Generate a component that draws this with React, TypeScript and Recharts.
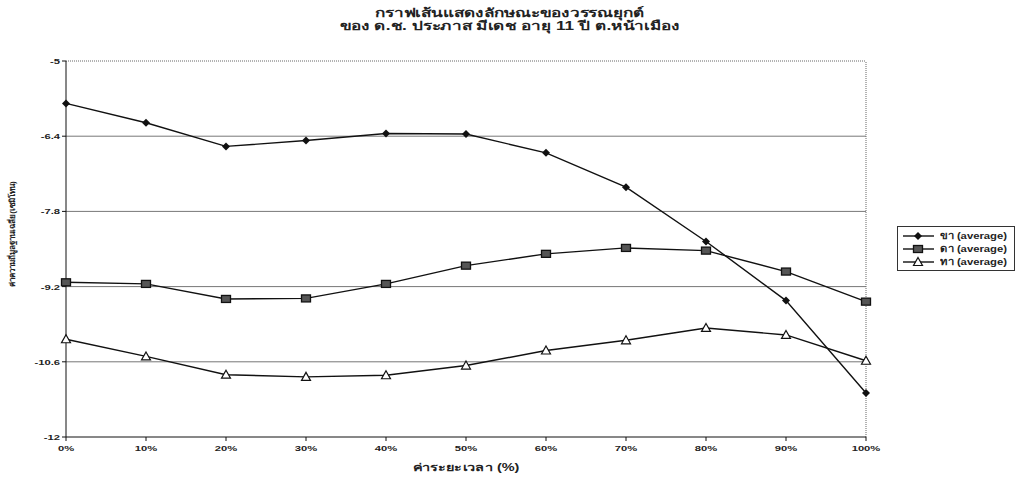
import { Label, Legend, Line, LineChart, ReferenceLine, XAxis, YAxis } from 'recharts'

const TIME_PCT = [0, 10, 20, 30, 40, 50, 60, 70, 80, 90, 100]
const KHA = [-5.79, -6.15, -6.59, -6.48, -6.35, -6.36, -6.71, -7.35, -8.36, -9.46, -11.18]
const DA = [-9.12, -9.15, -9.43, -9.42, -9.15, -8.81, -8.59, -8.48, -8.53, -8.92, -9.48]
const THA = [-10.18, -10.5, -10.84, -10.88, -10.85, -10.67, -10.39, -10.2, -9.97, -10.1, -10.58]
const Y_TICKS = [-5, -6.4, -7.8, -9.2, -10.6, -12]
const GRID_VALUES = [-6.4, -7.8, -9.2, -10.6]
const SERIES_NAMES = ['ขา (average)', 'ดา (average)', 'ทา (average)']

const data = TIME_PCT.map((t, i) => ({ t, kha: KHA[i], da: DA[i], tha: THA[i] }))

const FONT = '"Liberation Sans", Arial, sans-serif'
// the scanned figure is stretched sideways, so text gets widened a bit
const STRETCH = 1.4

function Diamond({ cx, cy }: any) {
  if (cx == null || cy == null) return null
  return <path d={`M${cx},${cy - 4}L${cx + 4},${cy}L${cx},${cy + 4}L${cx - 4},${cy}Z`} fill="#111" />
}

function Square({ cx, cy }: any) {
  if (cx == null || cy == null) return null
  return <rect x={cx - 4.5} y={cy - 3.5} width={9} height={7} fill="#555" stroke="#111" strokeWidth={1.3} />
}

function Triangle({ cx, cy }: any) {
  if (cx == null || cy == null) return null
  return <path d={`M${cx},${cy - 4.5}L${cx + 4.5},${cy + 3.5}L${cx - 4.5},${cy + 3.5}Z`} fill="#fff" stroke="#111" strokeWidth={1.2} />
}

const MARKERS = [Diamond, Square, Triangle]

function XTick({ x, y, payload }: any) {
  return (
    <text
      x={x}
      y={y + 8}
      textAnchor="middle"
      transform={`translate(${x},0) scale(${STRETCH},1) translate(${-x},0)`}
      fontFamily={FONT}
      fontWeight="bold"
      fontSize={8}
      fill="#222"
    >
      {`${payload.value}%`}
    </text>
  )
}

function YTick({ x, y, payload }: any) {
  return (
    <text
      x={x}
      y={y + 3}
      textAnchor="end"
      transform={`translate(${x},0) scale(${STRETCH},1) translate(${-x},0)`}
      fontFamily={FONT}
      fontWeight="bold"
      fontSize={8}
      fill="#222"
    >
      {payload.value}
    </text>
  )
}

function XTitle() {
  const cx = 466
  return (
    <text
      x={cx}
      y={471}
      textAnchor="middle"
      transform={`translate(${cx},0) scale(1.45,1) translate(${-cx},0)`}
      fontFamily={FONT}
      fontWeight="bold"
      fontSize={10}
      fill="#222"
    >
      ค่าระยะเวลา (%)
    </text>
  )
}

function YTitle() {
  const cx = 12
  const cy = 234
  return (
    <text
      x={cx}
      y={cy}
      transform={`rotate(-90, ${cx}, ${cy})`}
      textAnchor="middle"
      dominantBaseline="central"
      fontFamily={FONT}
      fontWeight="bold"
      fontSize={8}
      fill="#222"
    >
      ค่าความถี่มูลฐานเฉลี่ย(เซมิโทน)
    </text>
  )
}

function LegendBox() {
  return (
    <div
      style={{
        marginLeft: 31,
        width: 118,
        border: '1px solid #333',
        padding: '2px 0 2px 4px',
        fontFamily: FONT,
        fontWeight: 'bold',
        fontSize: 9,
        color: '#222',
        boxSizing: 'border-box',
      }}
    >
      {SERIES_NAMES.map((name, i) => {
        const M = MARKERS[i]
        return (
          <div key={name} style={{ display: 'flex', alignItems: 'center', height: 13 }}>
            <svg width={33} height={12} style={{ marginRight: 5 }}>
              <line x1={1} y1={6} x2={32} y2={6} stroke="#111" strokeWidth={1.4} />
              <M cx={16} cy={6} />
            </svg>
            <span style={{ display: 'inline-block', transform: 'scaleX(1.25)', transformOrigin: '0 50%' }}>{name}</span>
          </div>
        )
      })}
    </div>
  )
}

export default function App() {
  return (
    <div style={{ position: 'relative', width: 1019, height: 478, background: '#fff' }}>
      <style>{'body{margin:0;background:#fff}'}</style>
      <div
        style={{
          position: 'absolute',
          top: 7,
          left: 0,
          width: 1019,
          textAlign: 'center',
          fontFamily: FONT,
          fontWeight: 'bold',
          fontSize: 12,
          lineHeight: '13px',
          color: '#222',
          transform: 'scaleX(1.43)',
          transformOrigin: '509px 0',
        }}
      >
        <div>กราฟเส้นแสดงลักษณะของวรรณยุกต์</div>
        <div>ของ ด.ช. ประภาส มีเดช อายุ 11 ปี ต.หน้าเมือง</div>
      </div>
      <div style={{ position: 'absolute', left: 0, top: 0 }}>
        <LineChart width={1019} height={478} data={data} margin={{ top: 61, right: 2, bottom: 0, left: 10 }}>
          {GRID_VALUES.map((v) => (
            <ReferenceLine key={v} y={v} stroke="#777" strokeWidth={1} />
          ))}
          <ReferenceLine y={-5} stroke="#666" strokeDasharray="1 1" />
          <ReferenceLine x={100} stroke="#666" strokeDasharray="1 1" />
          <XAxis
            dataKey="t"
            type="number"
            domain={[0, 100]}
            ticks={TIME_PCT}
            height={41}
            stroke="#111"
            tickSize={4}
            tick={<XTick />}
            interval={0}
          >
            <Label content={<XTitle />} />
          </XAxis>
          <YAxis
            type="number"
            domain={[-12, -5]}
            ticks={Y_TICKS}
            width={56}
            stroke="#111"
            tickSize={4}
            interval={0}
            tick={<YTick />}
          >
            <Label content={<YTitle />} />
          </YAxis>
          <Legend
            layout="vertical"
            align="right"
            verticalAlign="middle"
            wrapperStyle={{ width: 151, top: 226 }}
            content={() => <LegendBox />}
          />
          <Line dataKey="kha" name={SERIES_NAMES[0]} stroke="#111" strokeWidth={1.4} dot={<Diamond />} isAnimationActive={false} />
          <Line dataKey="da" name={SERIES_NAMES[1]} stroke="#111" strokeWidth={1.4} dot={<Square />} isAnimationActive={false} />
          <Line dataKey="tha" name={SERIES_NAMES[2]} stroke="#111" strokeWidth={1.4} dot={<Triangle />} isAnimationActive={false} />
        </LineChart>
      </div>
    </div>
  )
}
